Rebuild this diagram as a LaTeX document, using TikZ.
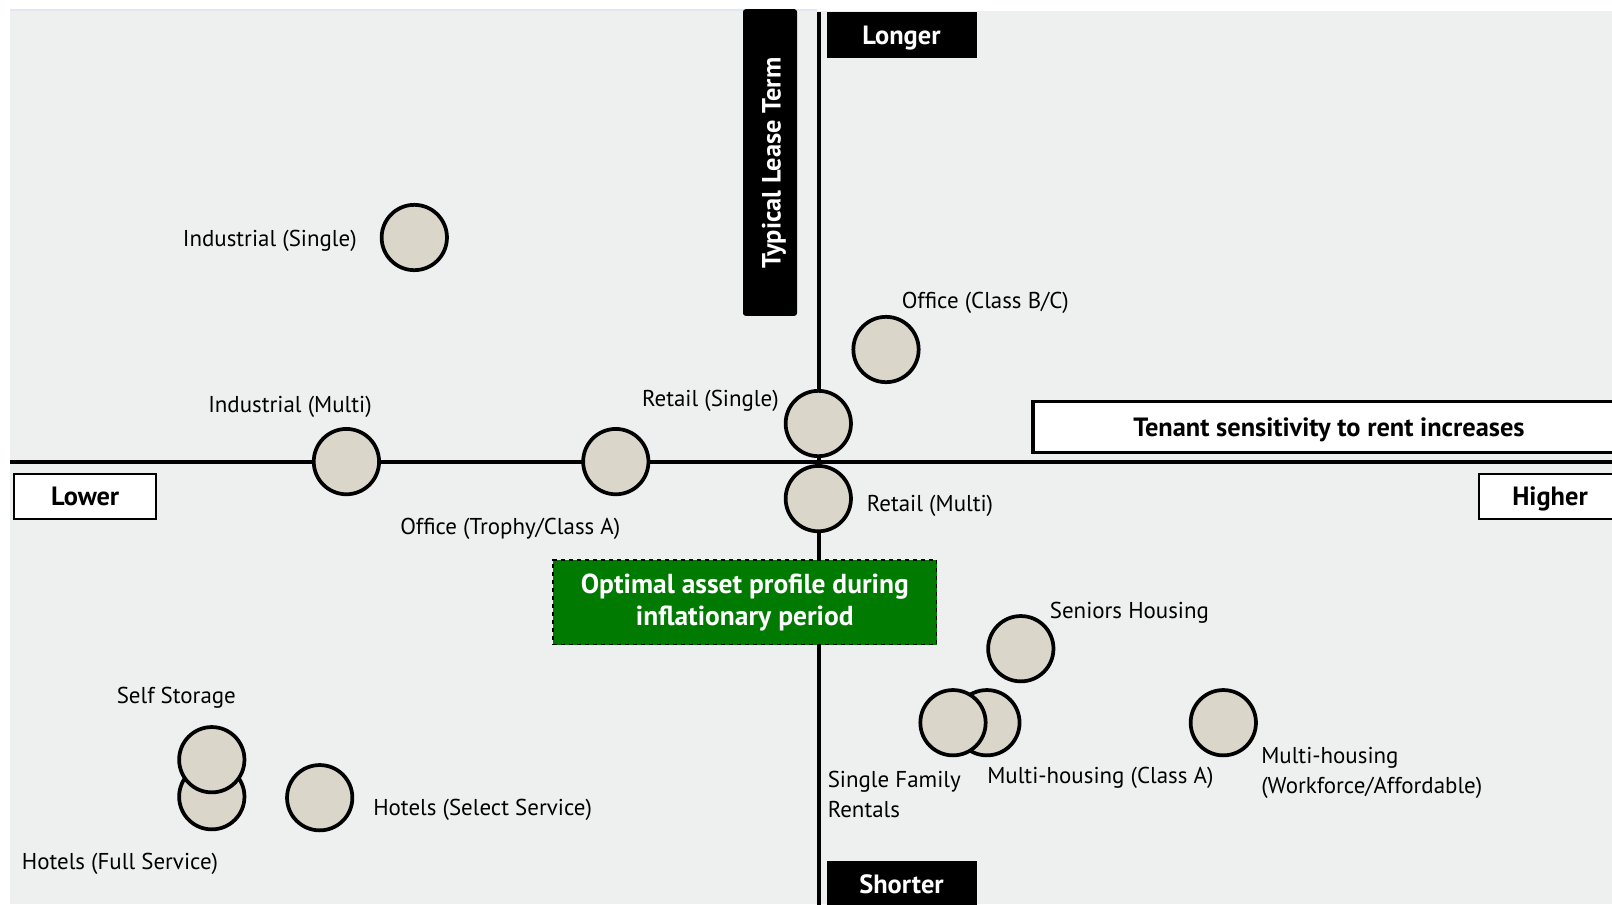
\documentclass[tikz,border=0pt]{standalone}
\usepackage{fontspec}
\setmainfont{PT Sans}
\definecolor{bg}{HTML}{EEF0EF}
\definecolor{dotfill}{HTML}{DBD6CA}
\definecolor{optgreen}{HTML}{007A00}
\definecolor{topline}{HTML}{E0E7F3}
\begin{document}
\begin{tikzpicture}[x=0.75pt,y=-0.75pt,
  dotc/.style={circle, draw=black, line width=2.8pt, fill=dotfill, minimum size=49pt, inner sep=0pt},
  lbl/.style={font=\fontsize{17.2}{22.5}\selectfont, inner sep=0pt, text=black},
  bold/.style={font=\fontsize{19.8}{24}\selectfont\bfseries},
  capc/.style={text height=13.6pt, text depth=0pt},
  blackbox/.style={bold, fill=black, text=white, inner sep=0pt},
  whitebox/.style={bold, capc, fill=white, draw=black, text=black, inner sep=0pt},
  axis/.style={line width=3pt, black}
]
\useasboundingbox (0,0) rectangle (1612,904);
\fill[bg] (10,11) rectangle (1612,904);
\draw[topline, line width=1.2pt] (10,10) -- (817,10);

% axes
\coordinate (vtop) at (819,12);
\coordinate (vbot) at (819,906);
\coordinate (hleft) at (10,461.5);
\coordinate (hright) at (1614,461.5);
\draw[axis] (vtop) -- (vbot);
\draw[axis] (hleft) -- (hright);

% axis boxes
\node[blackbox, rounded corners=2pt, minimum width=40.5pt, minimum height=230pt] (ltt) at (770,162.5) {};
\node[bold, text=white, inner sep=0pt, rotate=90, capc] (lttt) at (771.5,163) {Typical Lease Term};
\node[blackbox, capc, minimum width=112.5pt, minimum height=34pt] (longer) at (901.5,35) {Longer};
\node[blackbox, capc, minimum width=112.5pt, minimum height=34pt] (shorter) at (901.5,884) {Shorter};
\node[whitebox, line width=2.6pt, minimum width=444pt, minimum height=38.3pt] (tenant) at (1329,427) {Tenant sensitivity to rent increases};
\node[whitebox, line width=1.1pt, minimum width=106.5pt, minimum height=33.75pt] (lower) at (85.2,496.5) {Lower};
\node[whitebox, line width=1.1pt, minimum width=106.5pt, minimum height=33.75pt] (higher) at (1550,496.5) {Higher};

% optimal box
\node[bold, font=\fontsize{20.6}{24}\selectfont\bfseries, fill=optgreen, text=white, draw=black, dashed, line width=1pt, align=center,
      minimum width=287.6pt, minimum height=63.5pt, inner sep=0pt] (opt) at (744.8,602.3)
      {Optimal asset profile during\\inflationary period};

% circles
\node[dotc] (indS) at (414.3,237.5) {};
\node[dotc] (offBC) at (886,349.5) {};
\node[dotc] (retS) at (818.3,423.5) {};
\node[dotc] (indM) at (346.4,461.6) {};
\node[dotc] (offA) at (615.8,461.6) {};
\node[dotc] (retM) at (818.3,498.6) {};
\node[dotc] (sen) at (1020.8,648.7) {};
\node[dotc] (mhA) at (986.9,722.7) {};
\node[dotc] (sfr) at (953,722.7) {};
\node[dotc] (mhW) at (1223.3,722.7) {};
\node[dotc] (hotF) at (211.8,796.7) {};
\node[dotc] (ss) at (211.8,759.7) {};
\node[dotc] (hotS) at (319.7,797.7) {};

% labels
\node[lbl, anchor=east] (tindS) at (357,240.5) {Industrial (Single)};
\node[lbl, anchor=west] (toffBC) at (901.5,303) {Office (Class B/C)};
\node[lbl, anchor=east] (tretS) at (779,401) {Retail (Single)};
\node[lbl] (tindM) at (290,407) {Industrial (Multi)};
\node[lbl, anchor=west] (toffA) at (400,529) {Office (Trophy/Class A)};
\node[lbl, anchor=west] (tretM) at (866.6,505.7) {Retail (Multi)};
\node[lbl, anchor=west] (tsen) at (1049.6,612.6) {Seniors Housing};
\node[lbl] (tss) at (176.3,698) {Self Storage};
\node[lbl, anchor=west] (thotF) at (21.6,863.4) {Hotels (Full Service)};
\node[lbl, anchor=west] (thotS) at (373,810) {Hotels (Select Service)};
\node[lbl, anchor=north west, align=left] (tsfr) at (827.5,771) {Single Family\\Rentals};
\node[lbl, anchor=west] (tmhA) at (987,778) {Multi-housing (Class A)};
\node[lbl, anchor=north west, align=left] (tmhW) at (1261,746.5) {Multi-housing\\(Workforce/Affordable)};
\end{tikzpicture}
\end{document}
